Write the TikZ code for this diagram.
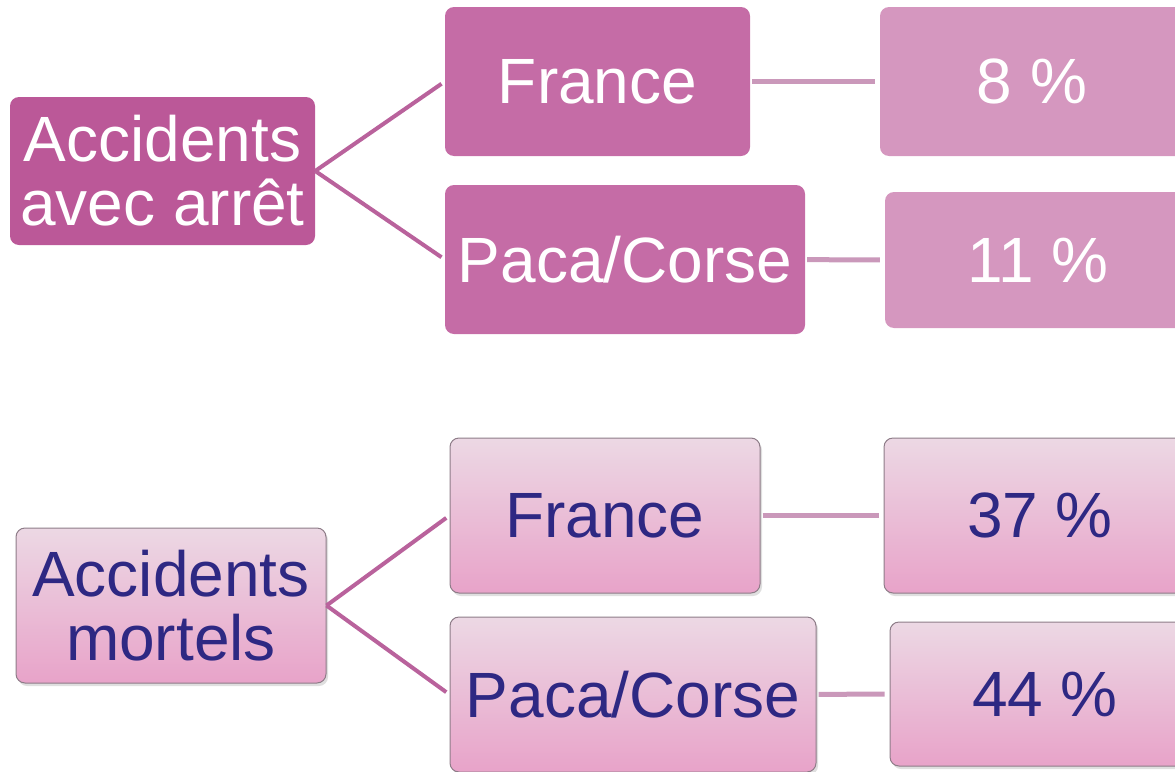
\documentclass[tikz,border=0pt]{standalone}
\usepackage{fontspec}
\setmainfont{Liberation Sans}
\usetikzlibrary{shadows}
\definecolor{rootcol}{HTML}{BB5898}
\definecolor{midcol}{HTML}{C56CA6}
\definecolor{pctcol}{HTML}{D597BF}
\definecolor{linecol}{HTML}{B9629C}
\definecolor{hlinecol}{HTML}{CA98BA}
\definecolor{paletop}{HTML}{ECD8E4}
\definecolor{palebot}{HTML}{E8A3C9}
\definecolor{paleedge}{HTML}{8E7C88}
\definecolor{inkblue}{HTML}{2E2883}
\begin{document}
\begin{tikzpicture}[x=1pt, y=-1pt]
  \useasboundingbox (0, 0) rectangle (1175, 771);  % Bildausschnitt.
  \clip (0, 0) rectangle (1175, 771);
  \tikzstyle{box}=[rounded corners=9pt, inner sep=0pt, align=center, font=\fontsize{64}{64}\selectfont]
  \tikzstyle{root}=[box, fill=rootcol, text=white]
  \tikzstyle{mid}=[box, fill=midcol, text=white]
  \tikzstyle{pct}=[box, fill=pctcol, text=white]
  \tikzstyle{pale}=[box, draw=paleedge, line width=1pt, top color=paletop, bottom color=palebot, text=inkblue,
    drop shadow={opacity=0.25, shadow xshift=2pt, shadow yshift=-3pt}]
  \tikzstyle{fork}=[draw=linecol, line width=4pt, shorten >=4pt]
  \tikzstyle{link}=[draw=hlinecol, line width=5pt, shorten <=2pt, shorten >=5pt]

  % avec arret
  \node[root, minimum width=305pt, minimum height=148pt] (r1) at (162.5, 171)   {Accidents\\avec arrêt};
  \node[mid,  minimum width=305pt, minimum height=149pt] (f1) at (597.5, 81.5)  {France};
  \node[mid,  minimum width=360pt, minimum height=149pt] (p1) at (625,   259.5) {Paca/Corse};
  \node[pct,  minimum width=304pt, minimum height=149pt] (a1) at (1032,  81.5)  {8 \%};
  \node[pct,  minimum width=306pt, minimum height=136pt] (b1) at (1038,  260)   {11 \%};

  % mortels
  \node[pale, minimum width=310pt, minimum height=155pt] (r2) at (171,   605.5) {Accidents\\mortels};
  \node[pale, minimum width=310pt, minimum height=155pt] (f2) at (605,   515.5) {France};
  \node[pale, minimum width=366pt, minimum height=155pt] (p2) at (633,   694.5) {Paca/Corse};
  \node[pale, minimum width=312pt, minimum height=155pt] (a2) at (1040,  515.5) {37 \%};
  \node[pale, minimum width=310pt, minimum height=144pt] (b2) at (1045,  694)   {44 \%};

  \path[fork] (r1.east) -- (f1.west);
  \path[fork] (r1.east) -- (p1.west);
  \path[fork] (r2.east) -- (f2.west);
  \path[fork] (r2.east) -- (p2.west);
  \path[link] (f1) -- (a1);
  \path[link] (p1) -- (b1);
  \path[link] (f2) -- (a2);
  \path[link] (p2) -- (b2);
\end{tikzpicture}
\end{document}
